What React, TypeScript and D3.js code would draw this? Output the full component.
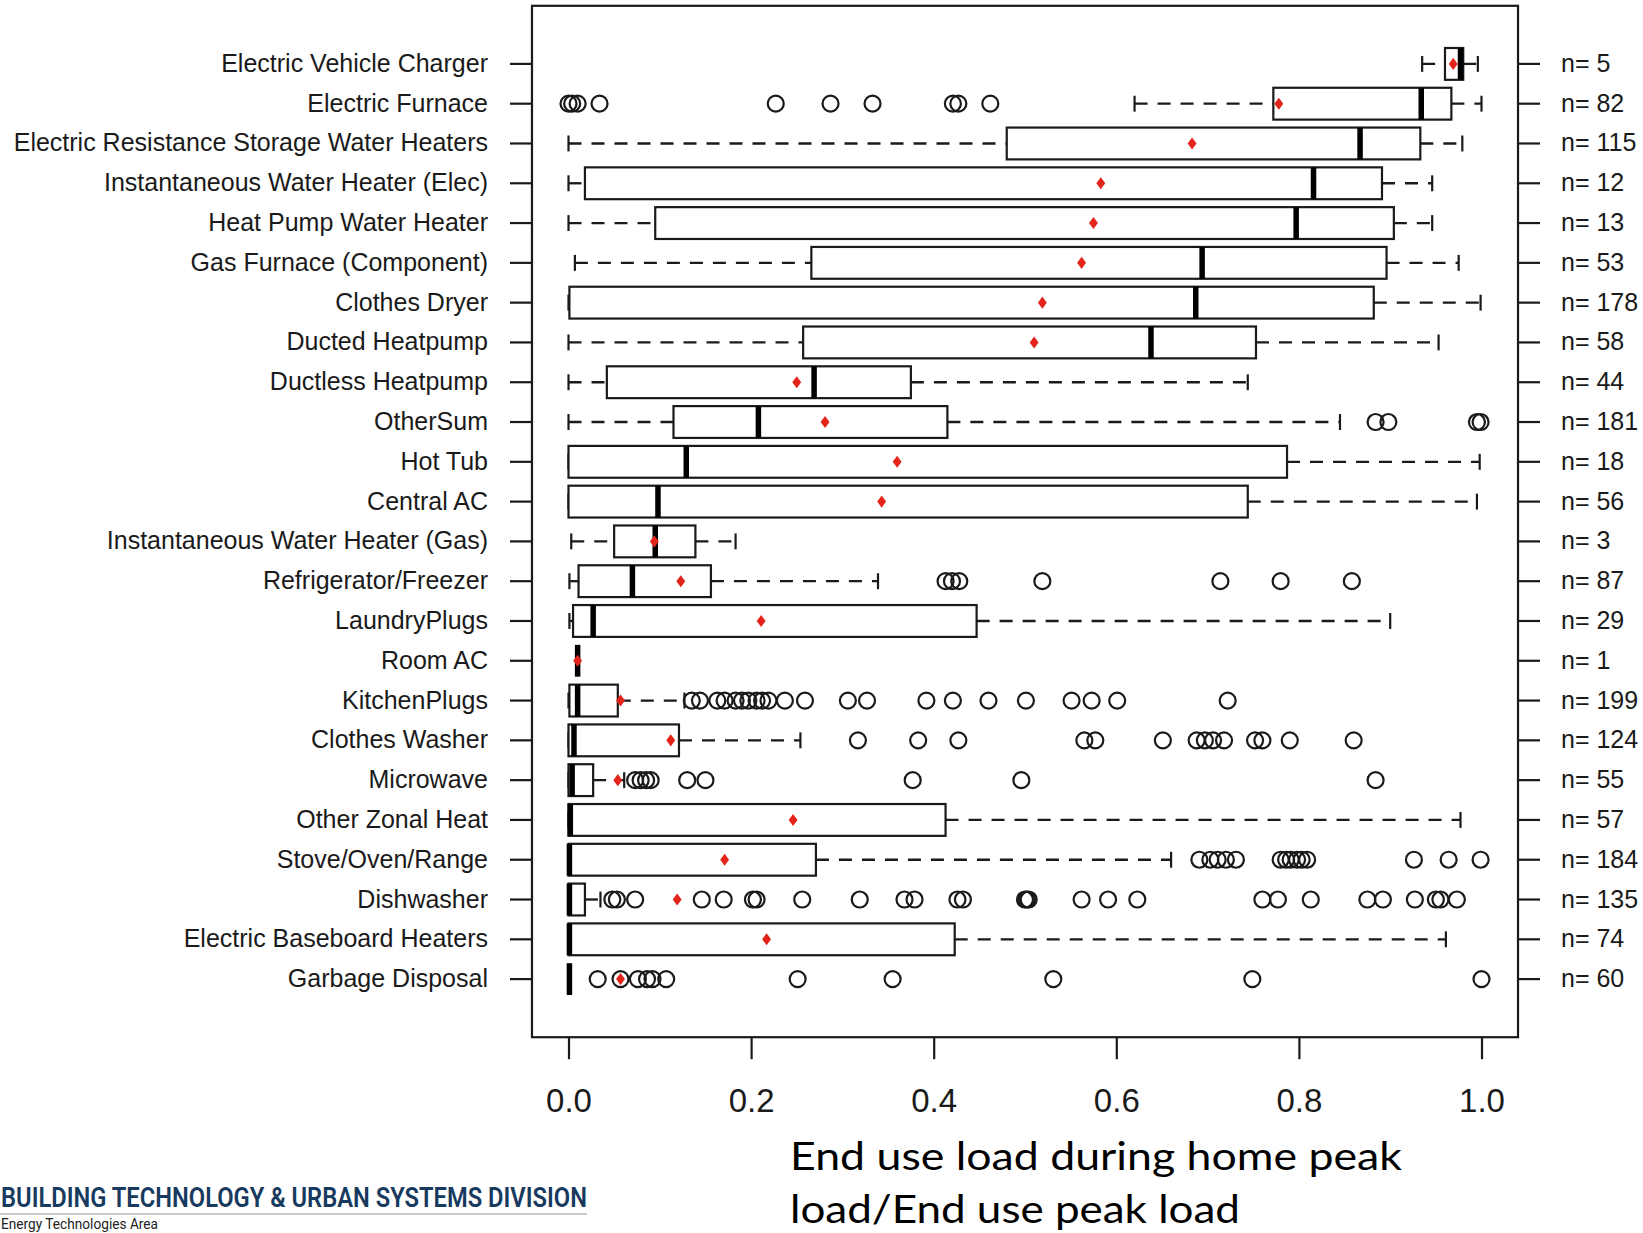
import { useEffect, useRef } from "react";
import * as d3 from "d3";

// end uses, top to bottom
const categories = [
  "Electric Vehicle Charger",
  "Electric Furnace",
  "Electric Resistance Storage Water Heaters",
  "Instantaneous Water Heater (Elec)",
  "Heat Pump Water Heater",
  "Gas Furnace (Component)",
  "Clothes Dryer",
  "Ducted Heatpump",
  "Ductless Heatpump",
  "OtherSum",
  "Hot Tub",
  "Central AC",
  "Instantaneous Water Heater (Gas)",
  "Refrigerator/Freezer",
  "LaundryPlugs",
  "Room AC",
  "KitchenPlugs",
  "Clothes Washer",
  "Microwave",
  "Other Zonal Heat",
  "Stove/Oven/Range",
  "Dishwasher",
  "Electric Baseboard Heaters",
  "Garbage Disposal",
];

const nCounts = [5, 82, 115, 12, 13, 53, 178, 58, 44, 181, 18, 56, 3, 87, 29, 1, 199, 124, 55, 57, 184, 135, 74, 60];

const lowerWhisker = [0.935, 0.62, 0, 0, 0, 0.007, 0, 0, 0, 0, 0, 0, 0.003, 0.001, 0.001, 0.01, 0, 0, 0, 0, 0, 0, 0, 0];
const q1 = [0.96, 0.772, 0.48, 0.018, 0.095, 0.266, 0.001, 0.257, 0.042, 0.115, 0, 0, 0.05, 0.011, 0.005, 0.01, 0.001, 0, 0, 0, 0, 0, 0, 0];
const medians = [0.977, 0.934, 0.867, 0.816, 0.797, 0.694, 0.687, 0.638, 0.269, 0.208, 0.129, 0.098, 0.095, 0.07, 0.027, 0.01, 0.01, 0.006, 0.004, 0.002, 0.001, 0.001, 0.001, 0.001];
const q3 = [0.98, 0.967, 0.933, 0.891, 0.904, 0.896, 0.882, 0.753, 0.375, 0.415, 0.787, 0.744, 0.139, 0.156, 0.447, 0.01, 0.054, 0.121, 0.027, 0.413, 0.271, 0.018, 0.423, 0];
const upperWhisker = [0.996, 1.0, 0.979, 0.946, 0.946, 0.975, 0.999, 0.953, 0.744, 0.845, 0.998, 0.995, 0.183, 0.339, 0.9, 0.01, 0.127, 0.254, 0.061, 0.977, 0.66, 0.035, 0.961, 0];
const means = [0.969, 0.778, 0.683, 0.583, 0.575, 0.562, 0.519, 0.51, 0.25, 0.281, 0.36, 0.343, 0.094, 0.123, 0.211, 0.01, 0.057, 0.112, 0.054, 0.246, 0.171, 0.119, 0.217, 0.057];

const outliers: number[][] = [
  [],
  [0.0, 0.004, 0.01, 0.034, 0.227, 0.287, 0.333, 0.421, 0.427, 0.462],
  [],
  [],
  [],
  [],
  [],
  [],
  [],
  [0.884, 0.898, 0.995, 0.999],
  [],
  [],
  [],
  [0.413, 0.42, 0.428, 0.519, 0.714, 0.78, 0.858],
  [],
  [],
  [0.135, 0.144, 0.163, 0.171, 0.183, 0.19, 0.197, 0.206, 0.212, 0.219, 0.237, 0.259, 0.306, 0.327, 0.392, 0.421, 0.46, 0.501, 0.551, 0.573, 0.601, 0.722],
  [0.317, 0.383, 0.427, 0.565, 0.577, 0.651, 0.688, 0.697, 0.706, 0.718, 0.752, 0.76, 0.79, 0.86],
  [0.073, 0.079, 0.085, 0.09, 0.13, 0.15, 0.377, 0.496, 0.884],
  [],
  [0.691, 0.703, 0.711, 0.72, 0.731, 0.78, 0.786, 0.791, 0.798, 0.803, 0.809, 0.926, 0.964, 0.999],
  [0.048, 0.053, 0.073, 0.146, 0.17, 0.202, 0.206, 0.256, 0.319, 0.368, 0.379, 0.426, 0.432, 0.5, 0.502, 0.504, 0.562, 0.591, 0.623, 0.76, 0.777, 0.813, 0.875, 0.892, 0.927, 0.95, 0.955, 0.973],
  [],
  [0.032, 0.057, 0.076, 0.086, 0.092, 0.107, 0.251, 0.355, 0.531, 0.749, 1.0],
];

const xTicks = [0, 0.2, 0.4, 0.6, 0.8, 1.0];
const axisTitle = ["End use load during home peak", "load/End use peak load"];

const W = 1643;
const H = 1233;

const App = () => {
  const svgRef = useRef<SVGSVGElement | null>(null);

  useEffect(() => {
    if (!svgRef.current) return;

    const svg = d3.select(svgRef.current).html("").attr("width", W).attr("height", H);
    svg.append("rect").attr("width", W).attr("height", H).attr("fill", "#fff");

    const x = d3.scaleLinear().domain([0, 1]).range([568.5, 1481.5]);
    const y = d3.scaleBand<string>().domain(categories).range([44, 999]).padding(0);
    const step = y.step();
    const cy = (i: number) => (y(categories[i]) as number) + step / 2;
    const half = 0.4 * step; // box half height
    const stapleHalf = 0.2 * step;

    const frameTop = 44 - 0.96 * step;
    const frameBottom = 999 + 0.96 * step;
    const ink = "#1a1a1a";
    const labelFont = "'Liberation Sans', Arial, Helvetica, sans-serif";

    // frame
    svg.append("rect")
      .attr("x", x(-0.04))
      .attr("y", frameTop)
      .attr("width", x(1.04) - x(-0.04))
      .attr("height", frameBottom - frameTop)
      .attr("fill", "none")
      .attr("stroke", ink)
      .attr("stroke-width", 2.2);

    // left axis: categories
    const left = svg.append("g")
      .attr("transform", `translate(${x(-0.04)},0)`)
      .call(d3.axisLeft(y).tickSize(22).tickPadding(22));
    left.select(".domain").remove();
    left.selectAll("line").attr("stroke", ink).attr("stroke-width", 2.2);
    left.selectAll("text").attr("font-family", labelFont).attr("font-size", 25).attr("fill", ink);

    // right axis: counts
    const right = svg.append("g")
      .attr("transform", `translate(${x(1.04)},0)`)
      .call(
        d3.axisRight(y)
          .tickSize(22)
          .tickPadding(21)
          .tickFormat((d) => `n= ${nCounts[categories.indexOf(d)]}`)
      );
    right.select(".domain").remove();
    right.selectAll("line").attr("stroke", ink).attr("stroke-width", 2.2);
    right.selectAll("text").attr("font-family", labelFont).attr("font-size", 25).attr("fill", ink);

    // bottom axis
    const bottom = svg.append("g")
      .attr("transform", `translate(0,${frameBottom})`)
      .call(d3.axisBottom(x).tickValues(xTicks).tickSize(22).tickFormat(d3.format(".1f")));
    bottom.select(".domain").remove();
    bottom.selectAll("line").attr("stroke", ink).attr("stroke-width", 2.2);
    bottom.selectAll("text")
      .attr("font-family", labelFont)
      .attr("font-size", 33)
      .attr("fill", ink)
      .attr("y", 75)
      .attr("dy", null);

    const rows = svg.append("g");

    categories.forEach((_, i) => {
      const yc = cy(i);
      const g = rows.append("g");

      // whiskers
      [
        [lowerWhisker[i], q1[i]],
        [q3[i], upperWhisker[i]],
      ].forEach(([a, b]) => {
        if (b - a > 0.0005) {
          g.append("line")
            .attr("x1", x(a)).attr("x2", x(b))
            .attr("y1", yc).attr("y2", yc)
            .attr("stroke", ink)
            .attr("stroke-width", 2.3)
            .attr("stroke-dasharray", "13 10");
        }
      });

      // staples
      [lowerWhisker[i], upperWhisker[i]].forEach((v) => {
        g.append("line")
          .attr("x1", x(v)).attr("x2", x(v))
          .attr("y1", yc - stapleHalf).attr("y2", yc + stapleHalf)
          .attr("stroke", ink)
          .attr("stroke-width", 2.2);
      });

      // box
      g.append("rect")
        .attr("x", x(q1[i]))
        .attr("y", yc - half)
        .attr("width", Math.max(0, x(q3[i]) - x(q1[i])))
        .attr("height", 2 * half)
        .attr("fill", "#fff")
        .attr("stroke", ink)
        .attr("stroke-width", 2.2);

      // median
      g.append("line")
        .attr("x1", x(medians[i])).attr("x2", x(medians[i]))
        .attr("y1", yc - half).attr("y2", yc + half)
        .attr("stroke", "#000")
        .attr("stroke-width", 5.5);

      // outliers
      g.selectAll("circle.out")
        .data(outliers[i])
        .join("circle")
        .attr("class", "out")
        .attr("cx", (d) => x(d))
        .attr("cy", yc)
        .attr("r", 8)
        .attr("fill", "none")
        .attr("stroke", ink)
        .attr("stroke-width", 2.2);

      // mean
      g.append("path")
        .attr("d", d3.symbol(d3.symbolDiamond2, 70)() as string)
        .attr("transform", `translate(${x(means[i])},${yc}) scale(0.85,1.15)`)
        .attr("fill", "#e3241b");
    });

    // axis title
    const titleWidths = [612, 450];
    axisTitle.forEach((t, k) => {
      svg.append("text")
        .attr("x", 790)
        .attr("y", 1170 + k * 53)
        .attr("font-family", "Lato, 'Open Sans', sans-serif")
        .attr("font-size", 39)
        .attr("fill", "#000")
        .attr("textLength", titleWidths[k])
        .attr("lengthAdjust", "spacingAndGlyphs")
        .text(t);
    });

    // footer
    svg.append("text")
      .attr("x", 1)
      .attr("y", 1207)
      .attr("font-family", "'Liberation Sans Narrow', Roboto, sans-serif")
      .attr("font-size", 27)
      .attr("font-weight", 600)
      .attr("fill", "#173a5e")
      .attr("textLength", 586)
      .attr("lengthAdjust", "spacingAndGlyphs")
      .text("BUILDING TECHNOLOGY & URBAN SYSTEMS DIVISION");

    svg.append("line")
      .attr("x1", 0).attr("x2", 587)
      .attr("y1", 1214).attr("y2", 1214)
      .attr("stroke", "#b8b8b8")
      .attr("stroke-width", 1.5);

    svg.append("text")
      .attr("x", 1)
      .attr("y", 1229)
      .attr("font-family", "'Liberation Sans Narrow', Roboto, sans-serif")
      .attr("font-size", 15)
      .attr("fill", "#222")
      .attr("textLength", 157)
      .attr("lengthAdjust", "spacingAndGlyphs")
      .text("Energy Technologies Area");
  }, []);

  return (
    <div style={{ position: "absolute", left: 0, top: 0, width: W, height: H, overflow: "hidden" }}>
      <svg ref={svgRef} style={{ display: "block" }}></svg>
    </div>
  );
};

export default App;
